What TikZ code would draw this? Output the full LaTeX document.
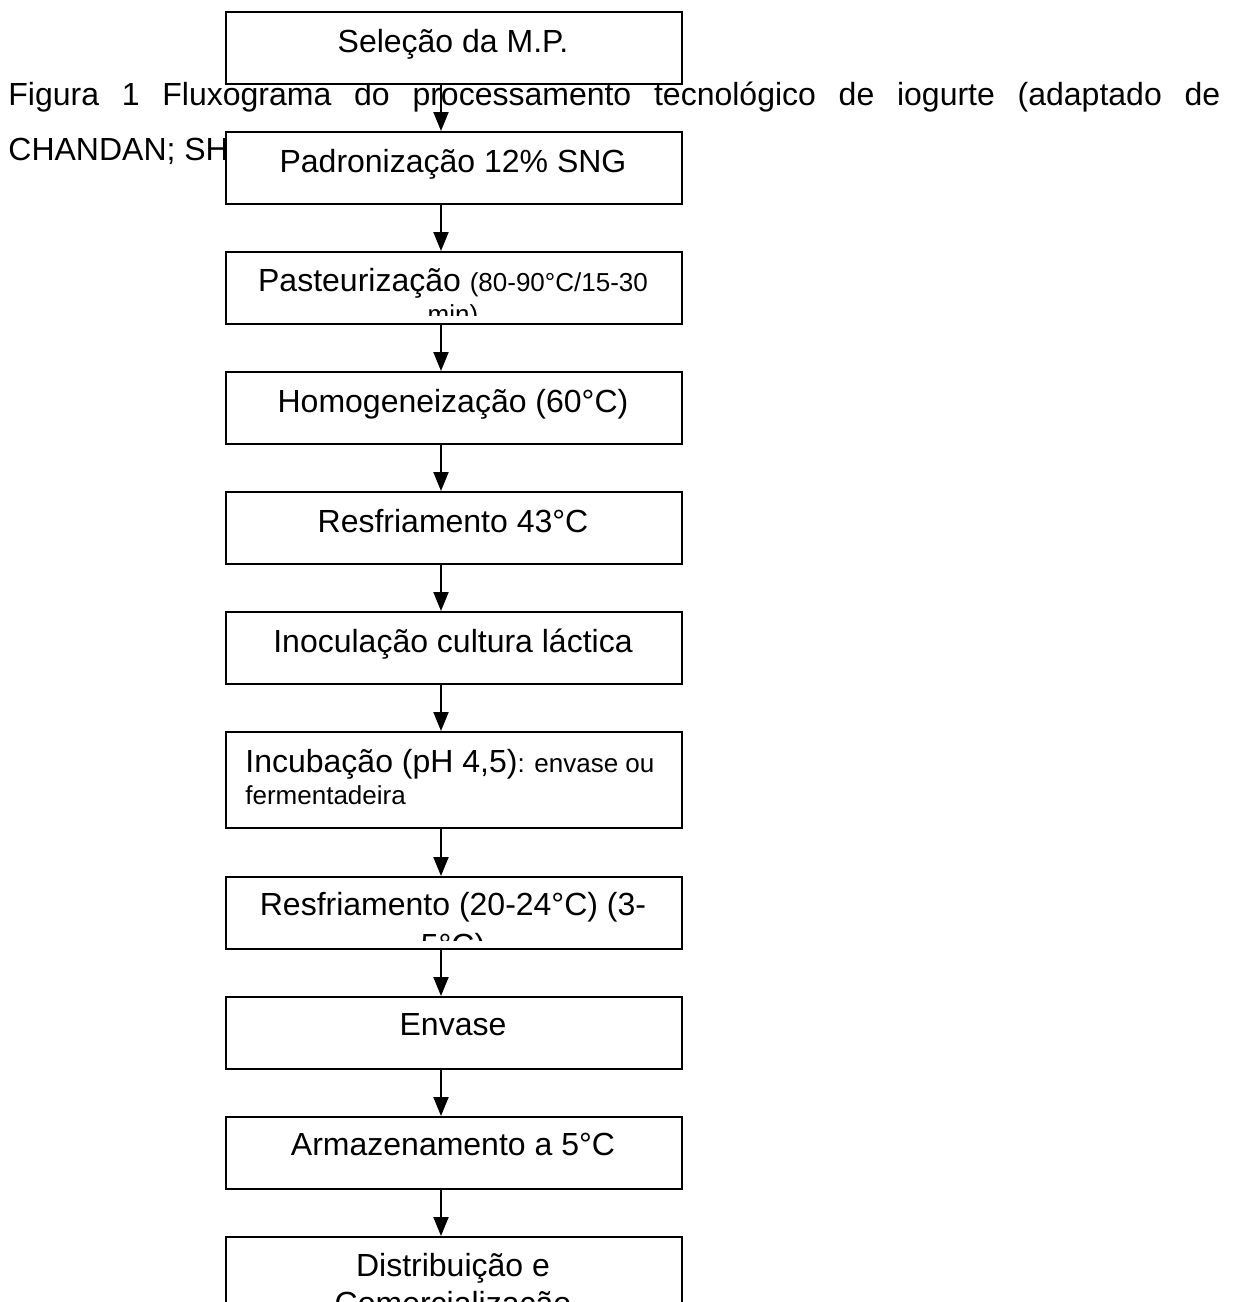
\documentclass[tikz,border=0pt]{standalone}
\usepackage{fontspec}
\setmainfont{Liberation Sans}
\usetikzlibrary{arrows.meta}
\newcommand{\bigf}{\fontsize{16}{18}\selectfont}
\newcommand{\smallf}{\fontsize{13}{15}\selectfont}
\begin{document}
\begin{tikzpicture}[x=0.5pt,y=-0.5pt,
  stepbox/.style={draw, line width=1pt, fill=white, minimum width=228pt, minimum height=36pt, inner sep=0pt, anchor=north west},
  txt/.style={font=\bigf, inner sep=0pt, anchor=base},
  arr/.style={line width=1pt, -{Triangle[width=7.5pt,length=9.5pt]}}]
\useasboundingbox (0,0) rectangle (1235,1302);
% caption behind the boxes
\node[txt, anchor=base west] (cap1) at (8,105) {\makebox[606pt][s]{Figura 1 Fluxograma do processamento tecnológico de iogurte (adaptado de}};
\node[txt, anchor=base west] (cap2) at (8,160) {CHANDAN; SH};
% boxes
\node[stepbox] (b1) at (225,11) {};
\node[stepbox] (b2) at (225,131) {};
\node[stepbox] (b3) at (225,251) {};
\node[stepbox] (b4) at (225,371) {};
\node[stepbox] (b5) at (225,491) {};
\node[stepbox] (b6) at (225,611) {};
\node[stepbox, minimum height=48pt] (b7) at (225,731) {};
\node[stepbox] (b8) at (225,876) {};
\node[stepbox] (b9) at (225,996) {};
\node[stepbox] (b10) at (225,1116) {};
\node[stepbox] (b11) at (225,1236) {};
% texts
\node[txt] (t1) at (453,52) {Seleção da M.P.};
\node[txt] (t2) at (453,172) {Padronização 12\% SNG};
\begin{scope}
  \clip (226,252) rectangle (680,315);
  \node[txt] (t3) at (453,291) {Pasteurização \smallf(80-90°C/15-30};
  \node[txt, font=\smallf] (t3b) at (453,323) {min)};
\end{scope}
\node[txt] (t4) at (453,412) {Homogeneização (60°C)};
\node[txt] (t5) at (453,532) {Resfriamento 43°C};
\node[txt] (t6) at (453,652) {Inoculação cultura láctica};
\node[txt, anchor=base west] (t7) at (245,772) {Incubação (pH 4,5)\smallf: envase ou};
\node[txt, anchor=base west, font=\smallf] (t7b) at (245,804) {fermentadeira};
\begin{scope}
  \clip (226,877) rectangle (680,940);
  \node[txt] (t8) at (453,915) {Resfriamento (20-24°C) (3-};
  \node[txt] (t8b) at (453,956) {5°C)};
\end{scope}
\node[txt] (t9) at (453,1035) {Envase};
\node[txt] (t10) at (453,1155) {Armazenamento a 5°C};
\node[txt] (t11) at (453,1276) {Distribuição e};
\node[txt] (t11b) at (453,1314) {Comercialização};
% arrows
\foreach \a/\b in {b1/b2,b2/b3,b3/b4,b4/b5,b5/b6,b6/b7,b7/b8,b8/b9,b9/b10,b10/b11}
  \draw[arr] ([xshift=108pt]\a.south west) -- ([xshift=108pt]\b.north west);
\end{tikzpicture}
\end{document}
